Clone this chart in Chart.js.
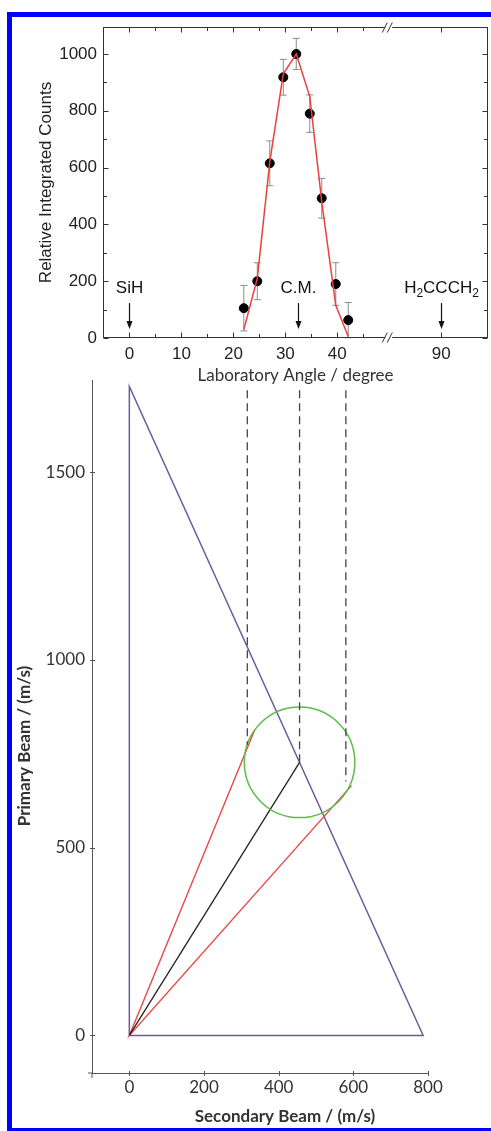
<!DOCTYPE html>
<html>
<head>
<meta charset="utf-8">
<script src="https://cdn.jsdelivr.net/npm/chart.js@4"></script>
<style>
  html, body { margin: 0; padding: 0; background: #fff; overflow: hidden; }
  body { width: 491px; height: 1131px; position: relative; }
  .frame { position: absolute; left: 7px; top: 12px; width: 479px; height: 1111px;
           border-top: 5px solid #0000ff; border-left: 5px solid #0000ff; border-bottom: 3px solid #0000ff; }
  canvas { position: absolute; left: 0; }
  #chart-top { top: 0; }
  #chart-bottom { top: 360px; }
</style>
</head>
<body>
<div class="frame"></div>
<canvas id="chart-bottom" width="491" height="771"></canvas>
<canvas id="chart-top" width="491" height="392"></canvas>
<script>
/*  Laboratory angular distribution (top) + Newton diagram (bottom).
 *  The top x axis is broken between 50 and 80 deg, so values past the
 *  break are shifted left by the gap before they reach the scale.
 */

// --- top: angular distribution ---
const ANGLES = [22.0, 24.6, 27.0, 29.6, 32.1, 34.7, 37.0, 39.7, 42.1]
const COUNTS = [105, 200, 615, 918, 1000, 790, 492, 190, 63]
const ERRORS = [80, 65, 79, 63, 55, 66, 70, 75, 62]
const FIT    = [30, 210, 620, 930, 1000, 850, 480, 115, 5]

const X_TICKS = [0, 5, 10, 15, 20, 25, 30, 35, 40, 45, 90]
const Y_TICKS = [0, 100, 200, 300, 400, 500, 600, 700, 800, 900, 1000]

const MARK_ANGLES = [0, 32.5, 90]
const MARK_LABELS = [[['SiH']], [['C.M.']], [['H'], ['2', 1], ['CCCH'], ['2', 1]]]
const MARK_TEXT_Y = 158
const ARROW_FROM = 123, ARROW_TO = 32

const BREAK_FROM = 50, BREAK_TO = 80
const GAP = BREAK_TO - BREAK_FROM
const mapAngle = a => a >= BREAK_TO ? a - GAP : a
const unmapAngle = v => v > BREAK_FROM ? v + GAP : v

// --- bottom: Newton diagram (m/s) ---
const TRI_X = [0, 0, 787, 0]
const TRI_Y = [0, 1728, 0, 0]
const CM = [456, 727]
const CIRCLE_R = 148
const RED_X = [336, 0, 595]
const RED_Y = [814, 0, 665]
const DASH_X = [316, 456, 580]
const DASH_END_Y = [774, 727, 676]
const DASH_TOP_Y = 1718

const BX_TICKS = [0, 200, 400, 600, 800]
const BY_TICKS = [0, 500, 1000, 1500]

const C = {
  axis: '#333', text: '#222', fit: '#e8423f', err: '#8c8c8c',
  tri: '#6b5c9e', red: '#ea4848', cm: '#222', circle: '#5dbd4a', dash: '#444',
}
const SANS = "'Liberation Sans', Arial, sans-serif"
const CAL = "Lato, 'Open Sans', sans-serif"

Chart.defaults.font.family = SANS
Chart.defaults.color = C.text
Chart.defaults.animation = false

const pts = (xs, ys) => xs.map((x, i) => ({ x, y: ys[i] }))

const errorBars = {
  id: 'errorBars',
  beforeDatasetsDraw(chart) {
    const { ctx, scales: { x, y } } = chart
    ctx.save()
    ctx.strokeStyle = C.err; ctx.lineWidth = 1
    ctx.beginPath()
    ANGLES.forEach((a, i) => {
      const px = x.getPixelForValue(a)
      const lo = y.getPixelForValue(Math.max(0, COUNTS[i] - ERRORS[i]))
      const hi = y.getPixelForValue(COUNTS[i] + ERRORS[i])
      ctx.moveTo(px, lo); ctx.lineTo(px, hi)
      ctx.moveTo(px - 3.5, lo); ctx.lineTo(px + 3.5, lo)
      ctx.moveTo(px - 3.5, hi); ctx.lineTo(px + 3.5, hi)
    })
    ctx.stroke()
    ctx.restore()
  },
}

function drawParts(ctx, parts, cx, baseY) {
  const big = `17px ${SANS}`, small = `12px ${SANS}`
  let w = 0
  parts.forEach(([t, sub]) => { ctx.font = sub ? small : big; w += ctx.measureText(t).width })
  let x = cx - w / 2
  ctx.textAlign = 'left'; ctx.textBaseline = 'alphabetic'
  parts.forEach(([t, sub]) => {
    ctx.font = sub ? small : big
    ctx.fillText(t, x, sub ? baseY + 4 : baseY)
    x += ctx.measureText(t).width
  })
}

const marks = {
  id: 'marks',
  afterDatasetsDraw(chart) {
    const { ctx, scales: { x, y } } = chart
    ctx.save()
    ctx.fillStyle = '#111'; ctx.strokeStyle = '#111'
    MARK_ANGLES.forEach((a, i) => {
      const px = Math.round(x.getPixelForValue(mapAngle(a))) + .5
      drawParts(ctx, MARK_LABELS[i], px, y.getPixelForValue(MARK_TEXT_Y))
      const y0 = y.getPixelForValue(ARROW_FROM), y1 = y.getPixelForValue(ARROW_TO)
      ctx.lineWidth = 1.2
      ctx.beginPath(); ctx.moveTo(px, y0); ctx.lineTo(px, y1 - 5); ctx.stroke()
      ctx.beginPath()
      ctx.moveTo(px - 3, y1 - 8); ctx.lineTo(px + 3, y1 - 8); ctx.lineTo(px, y1)
      ctx.closePath(); ctx.fill()
    })
    ctx.restore()
  },
}

const frameTop = {
  id: 'frameTop',
  afterDraw(chart) {
    const { ctx, chartArea: a, scales: { x, y } } = chart
    const L = Math.round(a.left) + .5, R = Math.round(a.right) - .5
    const T = Math.round(a.top) + .5, B = Math.round(a.bottom) - .5
    ctx.save()
    ctx.strokeStyle = C.axis; ctx.lineWidth = 1
    ctx.strokeRect(L, T, R - L, B - T)
    ctx.beginPath()
    x.ticks.forEach(t => {
      const px = Math.round(x.getPixelForValue(t.value)) + .5, n = t.label ? 5 : 3.5
      ctx.moveTo(px, B); ctx.lineTo(px, B - n)
      ctx.moveTo(px, T); ctx.lineTo(px, T + n)
    })
    y.ticks.forEach(t => {
      const py = Math.round(y.getPixelForValue(t.value)) + .5, n = t.label ? 5 : 3.5
      ctx.moveTo(L, py); ctx.lineTo(L + n, py)
      ctx.moveTo(R, py); ctx.lineTo(R - n, py)
    })
    ctx.stroke()
    const bx = x.getPixelForValue(BREAK_FROM)
    ;[T, B].forEach(py => {
      ctx.fillStyle = '#fff'; ctx.fillRect(bx - 4, py - 2, 7, 4)
      ctx.beginPath()
      ctx.moveTo(bx - 7, py + 5); ctx.lineTo(bx - 2, py - 5)
      ctx.moveTo(bx - 2, py + 5); ctx.lineTo(bx + 3, py - 5)
      ctx.stroke()
    })
    ctx.restore()
  },
}

new Chart(document.getElementById('chart-top'), {
  type: 'scatter',
  data: {
    datasets: [
      { data: pts(ANGLES, FIT), showLine: true, borderColor: C.fit, borderWidth: 1.5, pointRadius: 0 },
      { data: pts(ANGLES, COUNTS), pointRadius: 4.5, backgroundColor: '#000', borderColor: '#000' },
    ],
  },
  options: {
    responsive: false,
    layout: { padding: { top: 27, right: 3, left: 0, bottom: 0 }, autoPadding: false },
    plugins: { legend: { display: false }, tooltip: { enabled: false } },
    scales: {
      x: {
        min: -5.1, max: 69,
        grid: { display: false, drawTicks: false }, border: { display: false },
        afterBuildTicks: s => { s.ticks = X_TICKS.map(v => ({ value: mapAngle(v) })) },
        afterFit: s => { s.height = 54 },
        ticks: {
          padding: 6, font: { size: 17 }, maxRotation: 0, autoSkip: false,
          callback: v => unmapAngle(v) % 10 === 0 ? String(unmapAngle(v)) : '',
        },
        title: { display: true, text: 'Laboratory Angle / degree', color: '#333',
                 font: { family: CAL, size: 17, lineHeight: 1 }, padding: { bottom: 8 } },
      },
      y: {
        min: 0, max: 1095,
        grid: { display: false, drawTicks: false }, border: { display: false },
        afterBuildTicks: s => { s.ticks = Y_TICKS.map(v => ({ value: v })) },
        afterFit: s => { s.width = 103 },
        ticks: { padding: 6, font: { size: 17 }, autoSkip: false,
                 callback: v => v % 200 === 0 ? String(v) : '' },
        title: { display: true, text: 'Relative Integrated Counts', color: '#222',
                 font: { size: 17, lineHeight: 1 }, padding: { top: 38 } },
      },
    },
  },
  plugins: [errorBars, marks, frameTop],
})

const frameBottom = {
  id: 'frameBottom',
  afterDraw(chart) {
    const { ctx, chartArea: a, scales: { x, y } } = chart
    ctx.save()
    ctx.strokeStyle = '#555'; ctx.lineWidth = 1
    ctx.beginPath()
    x.ticks.forEach(t => {
      const px = Math.round(x.getPixelForValue(t.value)) + .5
      ctx.moveTo(px, a.bottom - 2); ctx.lineTo(px, a.bottom + 3)
    })
    y.ticks.forEach(t => {
      const py = Math.round(y.getPixelForValue(t.value)) + .5
      ctx.moveTo(a.left - 2, py); ctx.lineTo(a.left + 3, py)
    })
    ctx.moveTo(a.left - 4, a.bottom); ctx.lineTo(a.left, a.bottom)
    ctx.moveTo(a.left, a.bottom); ctx.lineTo(a.left, a.bottom + 5)
    ctx.stroke()
    ctx.fillStyle = '#333'; ctx.font = `bold 17px ${CAL}`
    ctx.textAlign = 'center'; ctx.textBaseline = 'middle'
    ctx.fillText('Secondary Beam / (m/s)', 285, 1117 - 360)
    ctx.translate(25, 746 - 360); ctx.rotate(-Math.PI / 2)
    ctx.fillText('Primary Beam / (m/s)', 0, 0)
    ctx.restore()
  },
}

const seg = (data, color, extra = {}) => ({
  data, showLine: true, borderColor: color, borderWidth: 1.4, pointRadius: 0, ...extra,
})

new Chart(document.getElementById('chart-bottom'), {
  type: 'scatter',
  data: {
    datasets: [
      ...DASH_X.map((dx, i) => seg([{ x: dx, y: DASH_TOP_Y }, { x: dx, y: DASH_END_Y[i] }], C.dash,
                                   { borderDash: [8, 5], borderWidth: 1.3 })),
      { data: [{ x: CM[0], y: CM[1] }], pointBackgroundColor: 'rgba(0,0,0,0)',
        pointBorderColor: C.circle, pointBorderWidth: 1.5,
        pointRadius: c => c.chart.scales.x.getPixelForValue(CIRCLE_R) - c.chart.scales.x.getPixelForValue(0) },
      seg([{ x: 0, y: 0 }, { x: CM[0], y: CM[1] }], C.cm, { borderWidth: 1.3 }),
      seg(pts(RED_X, RED_Y), C.red),
      seg(pts(TRI_X, TRI_Y), C.tri, { borderWidth: 1.5 }),
    ],
  },
  options: {
    responsive: false,
    layout: { padding: { top: 20, right: 63, left: 0, bottom: 0 }, autoPadding: false },
    plugins: { legend: { display: false }, tooltip: { enabled: false } },
    scales: {
      x: {
        min: -100, max: 800,
        grid: { display: false, drawTicks: false }, border: { color: '#555', width: 1 },
        afterBuildTicks: s => { s.ticks = BX_TICKS.map(v => ({ value: v })) },
        afterFit: s => { s.height = 58 },
        ticks: { padding: 4, color: '#333', font: { family: CAL, size: 17 }, maxRotation: 0,
                 autoSkip: false, callback: v => String(v) },
      },
      y: {
        min: -100, max: 1745,
        grid: { display: false, drawTicks: false }, border: { color: '#555', width: 1 },
        afterBuildTicks: s => { s.ticks = BY_TICKS.map(v => ({ value: v })) },
        afterFit: s => { s.width = 92 },
        ticks: { padding: 7, color: '#333', font: { family: CAL, size: 17 },
                 autoSkip: false, callback: v => String(v) },
      },
    },
  },
  plugins: [frameBottom],
})
</script>
</body>
</html>
